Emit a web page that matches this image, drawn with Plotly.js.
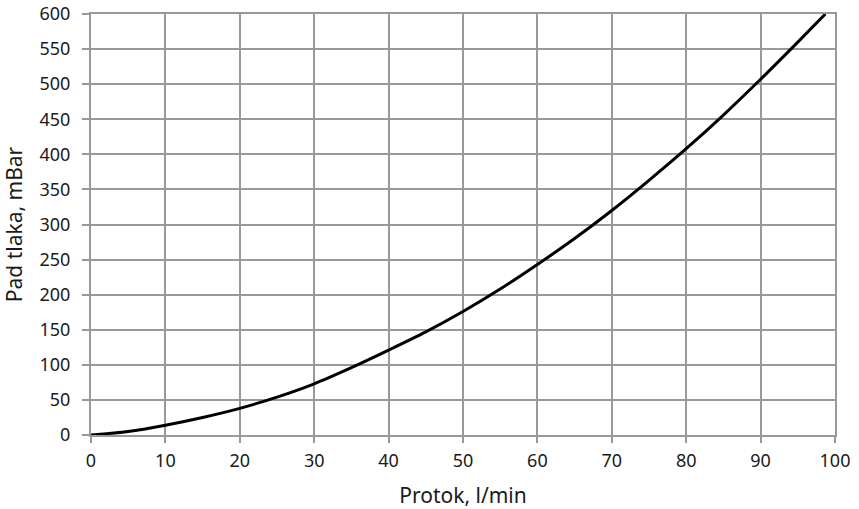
<!DOCTYPE html>
<html><head><meta charset="utf-8">
<script src="https://cdn.plot.ly/plotly-3.0.1.min.js"></script>
<style>html,body{margin:0;padding:0;background:#fff}#c{width:859px;height:509px}</style>
</head><body><div id="c"></div>
<script>
const flow = [0, 5, 10, 15, 20, 25, 30, 35, 40, 45, 50, 55, 60, 65, 70, 75, 80, 85, 90, 95, 98.7];
const pressure = [0, 5, 14, 25, 38, 54, 73, 96, 121, 147, 176, 208, 243, 280, 320, 363, 408, 456, 507, 560, 600];
const xTicks = [0,10,20,30,40,50,60,70,80,90,100];
const yTicks = [0,50,100,150,200,250,300,350,400,450,500,550,600];

const family = '"Noto Sans", "Open Sans", sans-serif';
const tickFont = {family: family, size: 18, color: '#1a1a1a'};
const titleFont = {family: family, size: 21, color: '#1a1a1a'};
const grid = '#999999';
Plotly.newPlot('c', [{
  x: flow, y: pressure, type: 'scatter', mode: 'lines',
  line: {color: '#000', width: 3, shape: 'spline', smoothing: 0.8}, hoverinfo: 'skip'
}], {
  width: 859, height: 509,
  margin: {l: 91, r: 24, t: 14, b: 74},
  paper_bgcolor: '#fff', plot_bgcolor: '#fff',
  font: tickFont, showlegend: false,
  xaxis: {range: [0, 100], tickvals: xTicks, ticktext: xTicks.map(String), tickfont: tickFont,
    showgrid: true, gridcolor: grid, gridwidth: 2,
    ticks: 'outside', ticklen: 6, tickcolor: grid, tickwidth: 2, ticklabelstandoff: 2,
    showline: true, linecolor: grid, linewidth: 2, mirror: true, zeroline: false,
    automargin: false,
    title: {text: 'Protok, l/min', font: titleFont, standoff: 20}},
  yaxis: {range: [0, 600], tickvals: yTicks, ticktext: yTicks.map(String), tickfont: tickFont,
    showgrid: true, gridcolor: grid, gridwidth: 2,
    ticks: 'outside', ticklen: 7, tickcolor: grid, tickwidth: 2, ticklabelstandoff: 8,
    showline: true, linecolor: grid, linewidth: 2, mirror: true, zeroline: false,
    automargin: false,
    title: {text: 'Pad tlaka, mBar', font: titleFont, standoff: 12}}
}, {staticPlot: true});
</script></body></html>
